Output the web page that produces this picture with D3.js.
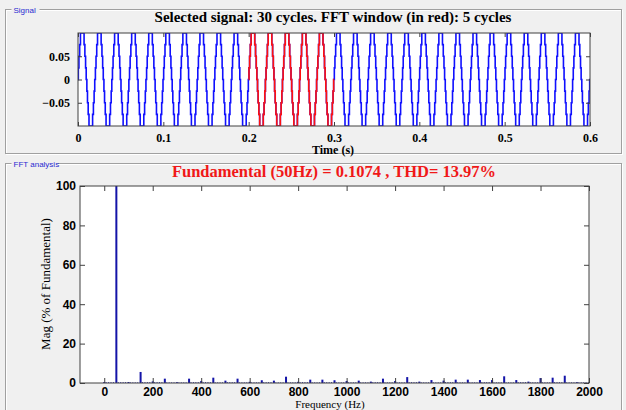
<!DOCTYPE html>
<meta charset="utf-8">
<script src="https://d3js.org/d3.v7.min.js"></script>
<style>
body { margin: 0; background: #f0f0f0; }
.panel rect.frame { fill: none; stroke: #a0a0a0; }
.panel rect.hilite { fill: none; stroke: #ffffff; }
.panel text { font-family: "Liberation Sans", Arial, sans-serif; font-size: 8px; fill: #2a2ad0; }
.axis path { display: none; }
.axis line { stroke: #404040; }
.sig .axis text { font-family: "Liberation Serif", serif; font-weight: bold; font-size: 12px; fill: #000; }
.fft .axis text { font-family: "Liberation Sans", Arial, sans-serif; font-weight: bold; font-size: 12px; fill: #000; }
.box { fill: none; stroke: #404040; }
.title { font-family: "Liberation Serif", serif; font-weight: bold; font-size: 15px; text-anchor: middle; }
.label { font-family: "Liberation Serif", serif; font-size: 13px; text-anchor: middle; fill: #000; }
</style>
<body>
</body>
<script>

// signal: stepped waveform
var nCycles = 30;
var freq = 50;
var switchAngles = [7, 20, 35, 52];          // degrees, first quarter wave
var stepLevels = [0.025, 0.05, 0.075, 0.1];   // level after each switching
var windowCycles = [10, 15];                  // fft window (red) = 0.2 .. 0.3 s
var timeTicks = [0, 0.1, 0.2, 0.3, 0.4, 0.5, 0.6];
var sigTicks = [-0.05, 0, 0.05];

// fft: harmonic magnitudes (% of fundamental) at 0, 50, 100 ... 2000 Hz
var harmFreq = d3.range(0, 2001, 50);
var harmMag = [0.5, 100, 0.5, 5.6, 0.8, 2.2, 0.4, 2.2, 1.0, 2.7,
               1.2, 2.2, 0.6, 1.4, 1.2, 3.2, 0.6, 1.7, 1.7, 1.4,
               1.0, 1.2, 0.7, 2.2, 1.0, 3.0, 0.7, 1.5, 1.2, 1.7,
               1.7, 1.5, 1.5, 3.4, 1.5, 0.7, 2.5, 2.7, 3.7, 0.4, 0.3];
// small interharmonic floor, one value per 50 Hz gap (bins every 10 Hz)
var floorMag = [0.4, 0.4, 0.3, 0.4, 0.4, 0.3, 0.3, 0.4, 0.4, 0.3,
                0.4, 0.3, 0.3, 0.4, 0.3, 0.3, 0.4, 0.3, 0.4, 0.3,
                0.3, 0.3, 0.4, 0.3, 0.3, 0.4, 0.3, 0.3, 0.4, 0.3,
                0.3, 0.4, 0.3, 0.3, 0.4, 0.3, 0.3, 0.4, 0.3, 0.3];
var freqTicks = d3.range(0, 2001, 200);
var magTicks = [0, 20, 40, 60, 80, 100];

var W = 626, H = 410;
var svg = d3.select("body").append("svg")
    .attr("width", W)
    .attr("height", H);

// panels
function panel(x, y, w, h, name, labelW) {
  var g = svg.append("g").attr("class", "panel");
  g.append("rect").attr("class", "hilite").attr("x", x + 1).attr("y", y + 1).attr("width", w).attr("height", h);
  g.append("rect").attr("class", "frame").attr("x", x).attr("y", y).attr("width", w).attr("height", h);
  g.append("rect").attr("x", x + 6).attr("y", y - 4).attr("width", labelW).attr("height", 8).style("fill", "#f0f0f0");
  g.append("text").attr("x", x + 8).attr("y", y + 3).text(name);
}
panel(5.5, 9.5, 616, 144, "Signal", 28);
panel(5.5, 163.5, 616, 260, "FFT analysis", 46);

// ---- signal plot ----
var sig = svg.append("g").attr("class", "sig");
var x1 = d3.scaleLinear().domain([0, 0.6]).range([78, 590]);
var y1 = d3.scaleLinear().domain([-0.1, 0.1]).range([126, 33]);

sig.append("rect").attr("x", 78).attr("y", 33).attr("width", 512).attr("height", 93).style("fill", "#fff");
sig.append("clipPath").attr("id", "clip1").append("rect")
    .attr("x", 78).attr("y", 33).attr("width", 512).attr("height", 93);

// one cycle of the staircase as (angle, level) switch points
var cycle = [{a: 0, v: 0}];
switchAngles.forEach(function(a, i) { cycle.push({a: a, v: stepLevels[i]}); });
switchAngles.slice().reverse().forEach(function(a, i) { cycle.push({a: 180 - a, v: i < 3 ? stepLevels[2 - i] : 0}); });
switchAngles.forEach(function(a, i) { cycle.push({a: 180 + a, v: -stepLevels[i]}); });
switchAngles.slice().reverse().forEach(function(a, i) { cycle.push({a: 360 - a, v: i < 3 ? -stepLevels[2 - i] : 0}); });

var signal = [];
for (var c = 0; c < nCycles; c++) {
  cycle.forEach(function(p) {
    signal.push({t: (c + p.a / 360) / freq, v: p.v, c: c});
  });
}
signal.push({t: nCycles / freq, v: 0, c: nCycles});

var line1 = d3.line()
    .x(function(d) { return x1(d.t); })
    .y(function(d) { return y1(d.v); })
    .curve(d3.curveStepAfter);

sig.append("path")
    .datum(signal)
    .attr("clip-path", "url(#clip1)")
    .attr("d", line1)
    .style("fill", "none").style("stroke", "#1010ff").style("stroke-width", 1.6);

sig.append("path")
    .datum(signal.filter(function(d) { return d.c >= windowCycles[0] && d.c <= windowCycles[1]; })
      .filter(function(d) { return d.t <= windowCycles[1] / freq; }))
    .attr("clip-path", "url(#clip1)")
    .attr("d", line1)
    .style("fill", "none").style("stroke", "#ff1010").style("stroke-width", 1.6);

sig.append("g").attr("class", "axis")
    .attr("transform", "translate(0,126)")
    .call(d3.axisBottom(x1).tickValues(timeTicks).tickSize(-4).tickPadding(7).tickFormat(d3.format("")));
sig.append("g").attr("class", "axis")
    .attr("transform", "translate(0,33)")
    .call(d3.axisTop(x1).tickValues(timeTicks).tickSize(-4).tickFormat(""));
sig.append("g").attr("class", "axis")
    .attr("transform", "translate(78,0)")
    .call(d3.axisLeft(y1).tickValues(sigTicks).tickSize(-4).tickPadding(8).tickFormat(d3.format("")));
sig.append("g").attr("class", "axis")
    .attr("transform", "translate(590,0)")
    .call(d3.axisRight(y1).tickValues(sigTicks).tickSize(-4).tickFormat(""));
sig.append("rect").attr("class", "box").attr("x", 78).attr("y", 33).attr("width", 512).attr("height", 93);

sig.append("text").attr("class", "title").attr("x", 333).attr("y", 22)
    .text("Selected signal: 30 cycles. FFT window (in red): 5 cycles");
sig.append("text").attr("class", "label").attr("x", 333).attr("y", 154)
    .style("font-weight", "bold").style("font-size", "12px")
    .text("Time (s)");

// ---- fft plot ----
var fft = svg.append("g").attr("class", "fft");
var x2 = d3.scaleLinear().domain([-100, 2000]).range([80, 589]);
var y2 = d3.scaleLinear().domain([0, 100]).range([383, 186]);

fft.append("rect").attr("x", 80).attr("y", 186).attr("width", 509).attr("height", 197).style("fill", "#fff");

var bins = [];
harmFreq.forEach(function(f, i) {
  bins.push({f: f, m: harmMag[i]});
  if (i < floorMag.length) {
    [10, 20, 30, 40].forEach(function(df) { bins.push({f: f + df, m: floorMag[i]}); });
  }
});

fft.selectAll(".bar")
    .data(bins).enter().append("rect")
    .attr("class", "bar")
    .attr("x", function(d) { return x2(d.f) - 1; })
    .attr("y", function(d) { return y2(d.m); })
    .attr("width", function(d) { return d.f % 50 === 0 ? 2 : 1; })
    .attr("height", function(d) { return y2(0) - y2(d.m); })
    .style("fill", "#1414a8");

fft.append("g").attr("class", "axis")
    .attr("transform", "translate(0,383)")
    .call(d3.axisBottom(x2).tickValues(freqTicks).tickSize(-5).tickPadding(4).tickFormat(d3.format("d")));
fft.append("g").attr("class", "axis")
    .attr("transform", "translate(0,186)")
    .call(d3.axisTop(x2).tickValues(freqTicks).tickSize(-5).tickFormat(""));
fft.append("g").attr("class", "axis")
    .attr("transform", "translate(80,0)")
    .call(d3.axisLeft(y2).tickValues(magTicks).tickSize(-5).tickPadding(4));
fft.append("g").attr("class", "axis")
    .attr("transform", "translate(589,0)")
    .call(d3.axisRight(y2).tickValues(magTicks).tickSize(-5).tickFormat(""));
fft.append("rect").attr("class", "box").attr("x", 80).attr("y", 186).attr("width", 509).attr("height", 197);

fft.append("text").attr("class", "title").attr("x", 334).attr("y", 177)
    .style("fill", "#f01818").style("font-size", "16.5px")
    .text("Fundamental (50Hz) = 0.1074 , THD= 13.97%");
fft.append("text").attr("class", "label").attr("x", 330).attr("y", 407.5)
    .style("font-size", "11px")
    .text("Frequency (Hz)");
fft.append("text").attr("class", "label")
    .attr("transform", "translate(50,284) rotate(-90)")
    .text("Mag (% of Fundamental)");

</script>
